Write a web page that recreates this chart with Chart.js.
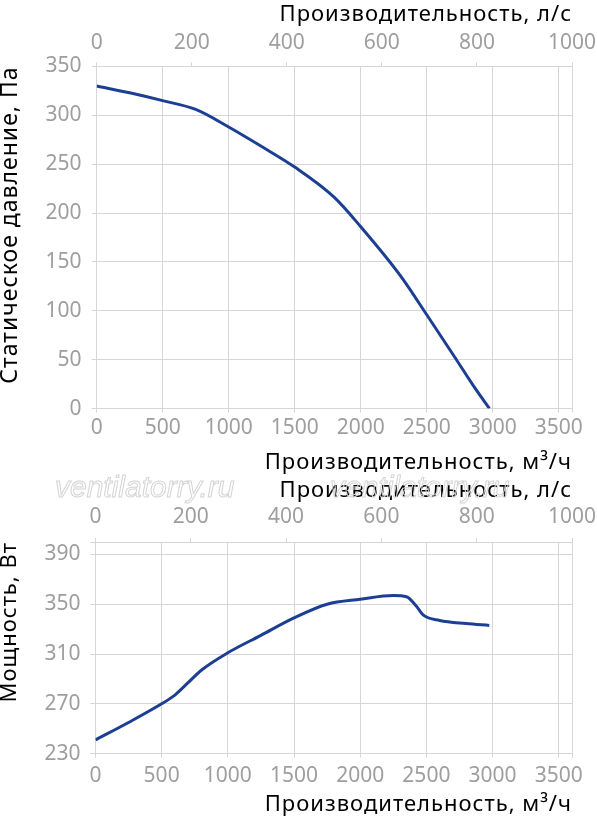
<!DOCTYPE html>
<html>
<head>
<meta charset="utf-8">
<script src="https://cdn.jsdelivr.net/npm/chart.js@4"></script>
<style>
  body { margin: 0; background: #fff; }
  .wrap { position: relative; width: 597px; height: 823px; }
  canvas { display: block; }
  .wm {
    position: absolute; top: 470px;
    font: italic 30px "Liberation Sans", sans-serif;
    color: transparent; -webkit-text-stroke: 1px #d4d4d4;
    pointer-events: none;
  }
</style>
</head>
<body>
<div class="wrap">
  <canvas id="pressure" width="597" height="478"></canvas>
  <canvas id="power" width="597" height="345"></canvas>
  <div class="wm" style="left:55px">ventilatorry.ru</div>
  <div class="wm" style="left:330px">ventilatorry.ru</div>
</div>
<script>
// flow, m3/h
const flowTicks = [0, 500, 1000, 1500, 2000, 2500, 3000, 3500, 3600];
const lsTicks = [0, 200, 400, 600, 800, 1000];
const pressureTicks = [0, 50, 100, 150, 200, 250, 300, 350];
const powerTicks = [230, 270, 310, 350, 390, 400];

const pressureFlow = [0, 250, 500, 750, 1000, 1250, 1500, 1800, 2000, 2300, 2500, 2725, 2850, 2975];
const pressureVals = [330, 323, 315, 306, 288, 268, 247, 216, 186, 136, 96, 50, 24, 0];

const powerFlow = [0, 250, 500, 600, 700, 800, 1000, 1250, 1500, 1750, 2000, 2250, 2350, 2420, 2480, 2600, 2800, 2975];
const powerVals = [241, 255, 270, 277, 287, 297, 311, 325, 339, 350, 354, 357, 356, 349, 341, 337, 334.5, 333];

const blue = '#1c3f94';
const gridColor = '#d6d6d6';
const tickColor = '#9e9e9e';
const tickFont = { family: 'Noto Sans', size: 21 };
const titleFont = { family: 'Noto Sans', size: 22 };

// axis titles in the original are a bit letter-spaced
const drawTitle = Chart.Scale.prototype.drawTitle;
Chart.Scale.prototype.drawTitle = function () {
  this.ctx.save();
  this.ctx.letterSpacing = '1px';
  drawTitle.call(this);
  this.ctx.restore();
};

function setTicks(arr) {
  return scale => { scale.ticks = arr.map(v => ({ value: v })); };
}

// let the layout padding alone decide the side margins
function noSidePad(scale) {
  scale.paddingLeft = 0;
  scale.paddingRight = 0;
}

function makeChart(id, xs, ys, yTicks, yTitle, s) {
  new Chart(document.getElementById(id), {
    type: 'line',
    data: {
      datasets: [{
        data: xs.map((x, i) => ({ x: x, y: ys[i] })),
        borderColor: blue,
        borderWidth: 3,
        pointRadius: 0,
        cubicInterpolationMode: 'monotone',
        fill: false
      }]
    },
    options: {
      responsive: false,
      animation: false,
      layout: { padding: { top: 0, left: 0, bottom: 0, right: 25 } },
      plugins: { legend: { display: false }, tooltip: { enabled: false } },
      scales: {
        x: {
          type: 'linear', position: 'bottom',
          min: 0, max: 3600,
          afterBuildTicks: setTicks(flowTicks),
          afterFit: noSidePad,
          grid: { color: gridColor, tickLength: 4 },
          border: { color: gridColor },
          ticks: {
            color: tickColor, font: tickFont, padding: s.xPad, maxRotation: 0, autoSkip: false,
            callback: v => v === 3600 ? '' : String(v)
          },
          title: {
            display: true, text: 'Производительность, м³/ч', align: 'end',
            color: '#000', font: titleFont, padding: { top: s.xTop, bottom: s.xBottom }
          }
        },
        x2: {
          type: 'linear', position: 'top',
          min: 0, max: 1000,
          afterBuildTicks: setTicks(lsTicks),
          afterFit: noSidePad,
          grid: { drawOnChartArea: false, color: gridColor, tickLength: 4 },
          border: { color: gridColor },
          ticks: {
            color: tickColor, font: tickFont, padding: s.x2Pad, maxRotation: 0, autoSkip: false,
            callback: v => String(v)
          },
          title: {
            display: true, text: 'Производительность, л/с', align: 'end',
            color: '#000', font: titleFont, padding: { top: s.x2Top, bottom: s.x2Bottom }
          }
        },
        y: {
          type: 'linear',
          min: yTicks[0], max: yTicks[yTicks.length - 1],
          afterBuildTicks: setTicks(yTicks),
          grid: { color: gridColor, tickLength: 5 },
          border: { color: gridColor },
          ticks: {
            color: tickColor, font: tickFont, padding: 10,
            callback: v => v === 400 ? '' : String(v)
          },
          title: {
            display: true, text: yTitle, align: 'end',
            color: '#000', font: { family: 'Noto Sans', size: s.yTitleSize }, padding: { top: -3, bottom: 11 }
          }
        }
      }
    }
  });
}

makeChart('pressure', pressureFlow, pressureVals, pressureTicks, 'Статическое давление, Па',
  { xPad: 2.4, xTop: 7.2, xBottom: 1.8, x2Pad: 6.4, x2Top: 1.8, x2Bottom: -3.8, yTitleSize: 23 });
makeChart('power', powerFlow, powerVals, powerTicks, 'Мощность, Вт',
  { xPad: 5.4, xTop: -1.8, xBottom: 4.8, x2Pad: 8.1, x2Top: 0, x2Bottom: -7.8, yTitleSize: 22 });
</script>
</body>
</html>
